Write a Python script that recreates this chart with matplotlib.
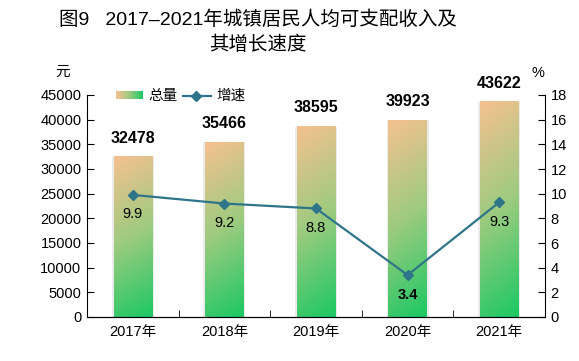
import numpy as np
import matplotlib
matplotlib.use("Agg")
import matplotlib.pyplot as plt
from matplotlib.colors import LinearSegmentedColormap
from matplotlib.lines import Line2D

years = ["2017年", "2018年", "2019年", "2020年", "2021年"]
income = [32478, 35466, 38595, 39923, 43622]
growth = [9.9, 9.2, 8.8, 3.4, 9.3]
left_ticks = [0, 5000, 10000, 15000, 20000, 25000, 30000, 35000, 40000, 45000]
right_ticks = [0, 2, 4, 6, 8, 10, 12, 14, 16, 18]

FAM = ['Liberation Sans', 'Noto Sans CJK SC', 'DejaVu Sans']
plt.rcParams['font.family'] = FAM

orange = "#F5C18F"
green = "#1CC864"
line_c = "#2F7589"
cmap = LinearSegmentedColormap.from_list("og", [green, "#9CCB7F", orange])

fig = plt.figure(figsize=(5.79, 3.61), dpi=100)
ax = fig.add_axes([87/579, 1-317/361, 458/579, 222/361])
ax2 = ax.twinx()

x = np.arange(len(years))
w = 0.42
ax.set_xlim(-0.5, len(years)-0.5)
ax.set_ylim(0, 45000)
ax2.set_ylim(0, 18)

ny, nx = 200, 40
yy, xx = np.mgrid[0:1:ny*1j, 0:1:nx*1j]
for xi, v in zip(x, income):
    ax.add_patch(plt.Rectangle((xi - w/2 - 0.02, 0), w + 0.04, v,
                               facecolor="#c8c8c8", alpha=0.35, edgecolor='none', zorder=1))
    t = yy*0.88 + (1-xx)*0.12
    ax.imshow(t, cmap=cmap, origin='lower', aspect='auto',
              extent=[xi - w/2, xi + w/2, 0, v], vmin=0, vmax=1, zorder=2)
    ax.annotate(f"{v}", (xi, v), xytext=(0, 8), textcoords='offset points',
                ha='center', va='bottom', fontsize=11.5, fontweight='bold',
                family=FAM, zorder=5)

ax.set_xlim(-0.5, len(years)-0.5)
ax.set_ylim(0, 45000)

ax2.plot(x, growth, color=line_c, lw=1.6, marker='D', markersize=5,
         markerfacecolor=line_c, markeredgecolor=line_c, zorder=4)
for xi, g in zip(x, growth):
    ax2.annotate(f"{g}", (xi, g), xytext=(0, -14), textcoords='offset points',
                 ha='center', va='center', fontsize=10.5,
                 fontweight='bold' if g == 3.4 else 'normal', family=FAM)

ax.set_zorder(ax2.get_zorder() - 1)
ax2.patch.set_visible(False)

for a in (ax, ax2):
    a.spines['top'].set_visible(False)
ax.spines['right'].set_visible(False)
ax2.spines['left'].set_visible(False)

ax.set_yticks(left_ticks)
ax.set_yticklabels([str(t) for t in left_ticks], fontsize=10.5)
ax2.set_yticks(right_ticks)
ax2.set_yticklabels([str(t) for t in right_ticks], fontsize=10.5)
ax.tick_params(axis='y', direction='in', length=5, pad=4)
ax2.tick_params(axis='y', direction='in', length=5, pad=4)

ax.set_xticks(x)
ax.set_xticklabels(years, fontsize=10.5)
ax.tick_params(axis='x', length=0, pad=6)
ax.set_xticks(np.arange(0.5, len(years)-0.5, 1), minor=True)
ax.tick_params(axis='x', which='minor', direction='in', length=5)

fig.text(258/579, 1-20/361, "图9   2017–2021年城镇居民人均可支配收入及", ha='center', va='center',
         fontsize=14, family=FAM)
fig.text(258/579, 1-45/361, "其增长速度", ha='center', va='center', fontsize=14, family=FAM)
fig.text(63/579, 1-72/361, "元", ha='center', va='center', fontsize=10.5, family=FAM)
fig.text(538/579, 1-73/361, "%", ha='center', va='center', fontsize=10.5, family=FAM)

lax = fig.add_axes([116/579, 1-99/361, 27/579, 8/361])
grad = np.linspace(1, 0, 50)[None, :]
lax.imshow(grad, cmap=cmap, aspect='auto', vmin=0, vmax=1)
lax.axis('off')
fig.text(148/579, 1-96/361, "总量", ha='left', va='center', fontsize=10.5, family=FAM)
fig.add_artist(Line2D([183/579, 211/579], [1-96/361, 1-96/361], color=line_c, lw=1.6))
fig.add_artist(Line2D([196/579], [1-96/361], color=line_c, marker='D', markersize=5))
fig.text(216/579, 1-96/361, "增速", ha='left', va='center', fontsize=10.5, family=FAM)

fig.savefig("out.png", dpi=100)
